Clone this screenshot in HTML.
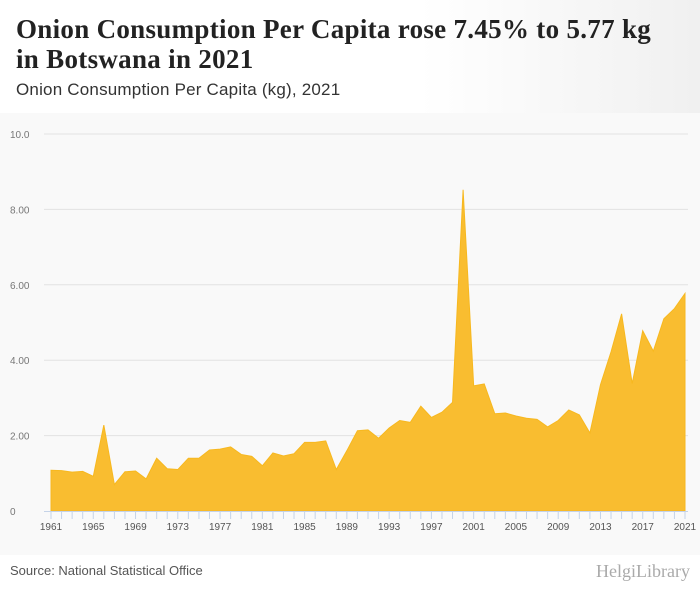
<!DOCTYPE html>
<html><head><meta charset="utf-8"><style>
body{margin:0;width:700px;height:596px;background:#fff;font-family:"Liberation Sans",sans-serif;overflow:hidden}
#hdr{position:absolute;left:0;top:0;width:700px;height:113px;background:linear-gradient(90deg,#fff 60%,#f0f0f0)}
h1{position:absolute;left:16px;top:14px;margin:0;font-family:"Liberation Serif",serif;font-size:27px;letter-spacing:0.3px;line-height:30px;color:#222;font-weight:bold}
#sub{position:absolute;left:16px;top:80px;font-size:17px;color:#333;letter-spacing:0.2px}
#chartbg{position:absolute;left:0;top:113px;width:700px;height:442px;background:#f9f9f9}
#src{position:absolute;left:10px;top:563px;font-size:13px;color:#555}
#logo{position:absolute;right:10px;top:561px;font-size:18px;color:#aaa;font-family:"Liberation Serif",serif}
svg{position:absolute;left:0;top:0}
</style></head><body>
<div id="hdr"></div>
<h1>Onion Consumption Per Capita rose 7.45% to 5.77 kg<br>in Botswana in 2021</h1>
<div id="sub">Onion Consumption Per Capita (kg), 2021</div>
<div id="chartbg"></div>
<svg id="chart" width="700" height="596"></svg>
<div id="src">Source: National Statistical Office</div>
<div id="logo">HelgiLibrary</div>
<script>
const startYear = 1961;
const values = [1.08,1.07,1.03,1.05,0.92,2.28,0.70,1.04,1.06,0.85,1.40,1.12,1.10,1.40,1.40,1.62,1.64,1.70,1.50,1.45,1.20,1.54,1.46,1.52,1.82,1.82,1.86,1.10,1.60,2.13,2.15,1.93,2.20,2.40,2.35,2.78,2.48,2.62,2.88,8.52,3.32,3.37,2.58,2.60,2.52,2.46,2.43,2.23,2.40,2.68,2.55,2.07,3.35,4.22,5.23,3.38,4.78,4.24,5.10,5.37,5.77];
const yTicks = [0,2,4,6,8,10];
const yTickLabels = ["0","2.00","4.00","6.00","8.00","10.0"];
const xTickYears = [1961,1965,1969,1973,1977,1981,1985,1989,1993,1997,2001,2005,2009,2013,2017,2021];

const NS="http://www.w3.org/2000/svg";
const svg=document.getElementById('chart');
const x0=51,x1=685,y0=511,y1=134,yMax=10;
const endYear=startYear+values.length-1;
const X=yr=>x0+(yr-startYear)*(x1-x0)/(endYear-startYear);
const Y=v=>y0-v*(y0-y1)/yMax;
function mk(t,a){const e=document.createElementNS(NS,t);for(const k in a)e.setAttribute(k,a[k]);svg.appendChild(e);return e;}
yTicks.forEach((t,i)=>{
  if(t>0){const l=mk('line',{x1:44,x2:688,y1:Y(t),y2:Y(t),stroke:'#e2e2e2','stroke-width':1});
  
  }
  const tx=mk('text',{x:10,y:Y(t)+4,'font-size':10,fill:'#777','font-family':'Liberation Sans, sans-serif'});
  tx.textContent=yTickLabels[i];
  
  
});
let d='M'+X(startYear)+','+Y(0);
values.forEach((v,i)=>{d+=' L'+X(startYear+i).toFixed(2)+','+Y(v).toFixed(2);});
d+=' L'+X(endYear)+','+Y(0)+' Z';
const area=mk('path',{d:d,fill:'#f9bd30',stroke:'#f7b81f','stroke-width':1});


const ax=mk('line',{x1:44,x2:688,y1:y0+0.5,y2:y0+0.5,stroke:'#c5d3e8','stroke-width':1});


for(let yr=startYear;yr<=endYear;yr++){
  const tk=mk('line',{x1:X(yr),x2:X(yr),y1:y0,y2:y0+8,stroke:'#c5d3e8','stroke-width':1});
  
  
}
xTickYears.forEach(yr=>{
  const tx=mk('text',{x:X(yr),y:530,'font-size':10,fill:'#555','text-anchor':'middle','font-family':'Liberation Sans, sans-serif'});
  tx.textContent=yr;
  
  
});
</script>
</body></html>
